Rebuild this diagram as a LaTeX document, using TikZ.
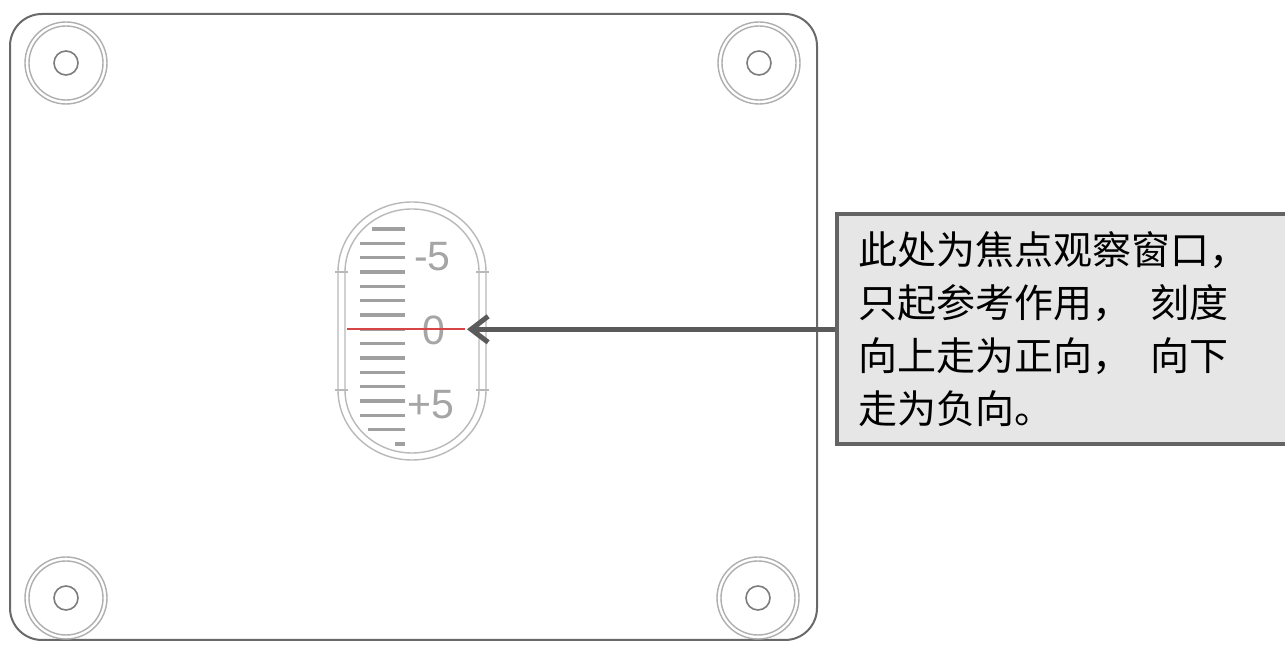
\documentclass[tikz,border=0pt]{standalone}
\usepackage{fontspec}
\newfontfamily\cjk{Noto Sans CJK SC}
\setsansfont{Liberation Sans}
\usetikzlibrary{arrows.meta}
\definecolor{plateline}{RGB}{105,105,105}
\definecolor{ringline}{RGB}{175,175,175}
\definecolor{holeline}{RGB}{125,125,125}
\definecolor{winline}{RGB}{185,185,185}
\definecolor{scaleline}{RGB}{160,160,160}
\definecolor{scaletext}{RGB}{165,165,165}
\definecolor{arrowcol}{RGB}{90,90,90}
\definecolor{boxline}{RGB}{100,100,100}
\definecolor{boxfill}{RGB}{230,230,230}
\definecolor{markred}{RGB}{215,70,70}
\tikzset{
  plate/.style={draw=plateline, line width=2pt, rounded corners=32pt},
  ring/.style={draw=ringline, line width=1.4pt},
  hole/.style={draw=holeline, line width=1.6pt},
  winoutline/.style={draw=winline, line width=1.4pt},
  tick/.style={draw=scaleline, line width=3.2pt},
  marker/.style={draw=markred, line width=1.6pt},
  scalelabel/.style={text=scaletext, font=\sffamily\fontsize{41}{41}\selectfont, inner sep=0pt},
  pointer/.style={draw=arrowcol, line width=5pt, -{Straight Barb[length=17pt,width=26pt]}},
  notebox/.style={draw=boxline, fill=boxfill, line width=4pt, rectangle,
    minimum width=462pt, minimum height=230pt, inner xsep=21pt, text width=420pt,
    align=left, font=\cjk\fontsize{39}{53}\selectfont}
}
\begin{document}
\begin{tikzpicture}[x=1pt,y=1pt]
\useasboundingbox (0,0) rectangle (1285,647);
\fill[white] (0,0) rectangle (1285,647);
% plate
\draw[plate] (10,7) rectangle (817,633);
% mounting holes
\foreach \cx/\cy/\nm in {66/584/ha, 759/584/hb, 66/49/hc, 758/49/hd}{
  \draw[ring] (\cx,\cy) circle[radius=41];
  \draw[ring] (\cx,\cy) circle[radius=37];
  \draw[hole] (\cx,\cy) circle[radius=12];
}
% focus window
\draw[winoutline] (338,257) -- (338,375) arc[start angle=180,end angle=0,x radius=74,y radius=70]
  -- (486,257) arc[start angle=0,end angle=-180,x radius=74,y radius=70] -- cycle;
\draw[winoutline] (345,257) -- (345,375) arc[start angle=180,end angle=0,x radius=67,y radius=63]
  -- (479,257) arc[start angle=0,end angle=-180,x radius=67,y radius=63] -- cycle;
\foreach \yy in {257,375}{
  \draw[winoutline] (335,\yy) -- (348,\yy);
  \draw[winoutline] (476,\yy) -- (489,\yy);
}
% scale
\foreach \i in {1,...,13}{
  \draw[tick] (360,418-14.33*\i) -- (405,418-14.33*\i);
}
\draw[tick] (372,418) -- (405,418);
\draw[tick] (368,418-14.33*14) -- (405,418-14.33*14);
\draw[tick] (395,418-14.33*15) -- (405,418-14.33*15);
\node[scalelabel] (lm5) at (432.5,390) {-5};
\node[scalelabel] (l0) at (433.5,317) {0};
\node[scalelabel] (lp5) at (431,242) {+5};
\draw[marker] (347,317.7) -- (465,317.7);
\coordinate (target) at (467,317.7);
% note
\node[notebox, anchor=west] (note) at (835,317.7) {此处为焦点观察窗口，\\只起参考作用，\hspace{0.5em}刻度\\向上走为正向，\hspace{0.5em}向下\\走为负向。};
\draw[pointer] (note.west) -- (target);
\end{tikzpicture}
\end{document}
